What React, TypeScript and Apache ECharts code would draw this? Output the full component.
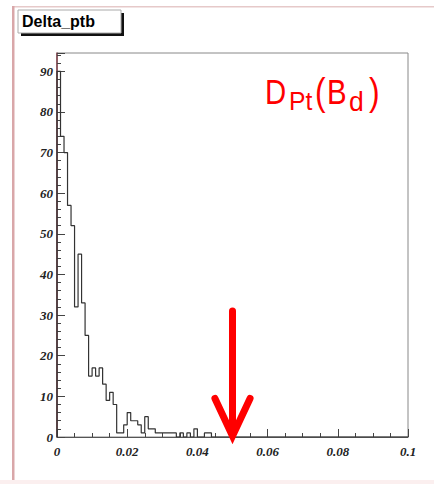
import * as echarts from "echarts";
import { useEffect, useRef } from "react";

// histogram Delta_ptb: bin contents, bins of 0.001 from 0
const BIN_WIDTH = 0.001;
const binCounts = [
  90, 74, 70, 57, 52, 32, 45, 33, 25, 15, 17, 15, 17, 13, 9, 11, 8, 1, 1, 3,
  6, 4, 4, 3, 1, 5, 2, 2, 1, 1, 1, 1, 1, 1, 0, 1, 0, 1, 0, 2, 0, 0, 1, 1, 0,
];
const xTicks = [0, 0.02, 0.04, 0.06, 0.08, 0.1];
const X_MAX = 0.1;
const Y_MAX = 94.5;

// cut marker
const ARROW_X = 0.05;
const ARROW_TOP = 31;
const ARROW_HEAD_Y = 9.5;
const ARROW_HALF = 0.005;

const labelFont = {
  fontFamily: '"Liberation Serif", "DejaVu Serif", serif',
  fontStyle: "italic" as const,
  fontWeight: "bold" as const,
  fontSize: 13,
  color: "#222",
};

export default function App() {
  const ref = useRef<HTMLDivElement>(null);

  useEffect(() => {
    document.body.style.margin = "0";
    const chart = echarts.init(ref.current!, null, { renderer: "svg" });

    const steps: number[][] = [[0, 0]];
    binCounts.forEach((v, i) => steps.push([i * BIN_WIDTH, v]));
    steps.push([X_MAX, binCounts[binCounts.length - 1]]);

    const red = "#ff0000";
    const sans = '"Liberation Sans", Arial, sans-serif';

    chart.setOption({
      animation: false,
      backgroundColor: "#fff",
      grid: {
        left: 57,
        right: 26,
        top: 53,
        bottom: 47,
        show: true,
        borderColor: "#888",
        borderWidth: 1,
      },
      xAxis: {
        type: "value",
        min: 0,
        max: X_MAX,
        interval: 0.02,
        axisLine: { lineStyle: { color: "#555", width: 1 } },
        axisTick: { inside: true, length: 8, lineStyle: { color: "#444" } },
        minorTick: {
          show: true,
          splitNumber: 4,
          length: 4,
          lineStyle: { color: "#444" },
        },
        splitLine: { show: false },
        axisLabel: {
          ...labelFont,
          margin: 8,
          formatter: (v: number) =>
            xTicks.some((t) => Math.abs(t - v) < 1e-9) ? String(+v.toFixed(2)) : "",
        },
      },
      yAxis: {
        type: "value",
        min: 0,
        max: Y_MAX,
        interval: 10,
        axisLine: { show: true, lineStyle: { color: "#7d3b45", width: 1.5 } },
        axisTick: { show: true, inside: true, length: 8, lineStyle: { color: "#444" } },
        minorTick: {
          show: true,
          splitNumber: 5,
          length: 4,
          lineStyle: { color: "#444" },
        },
        splitLine: { show: false },
        axisLabel: {
          ...labelFont,
          margin: 4,
          showMaxLabel: false,
          formatter: (v: number) => (v % 10 === 0 ? String(v) : ""),
        },
      },
      series: [
        {
          type: "line",
          step: "end",
          data: steps,
          symbol: "none",
          lineStyle: { color: "#333", width: 1.2 },
          z: 3,
        },
        {
          type: "custom",
          data: [[ARROW_X, ARROW_TOP]],
          clip: false,
          z: 5,
          renderItem: (_p: any, api: any) => {
            const x = api.value(0);
            const top = api.coord([x, api.value(1)]);
            const tip = api.coord([x, 0]);
            const l = api.coord([x - ARROW_HALF, ARROW_HEAD_Y]);
            const r = api.coord([x + ARROW_HALF, ARROW_HEAD_Y]);
            const style = {
              stroke: red,
              lineWidth: 7,
              lineCap: "round",
              lineJoin: "miter",
              fill: "none",
            };
            return {
              type: "group",
              children: [
                {
                  type: "line",
                  shape: { x1: top[0], y1: top[1], x2: tip[0], y2: tip[1] - 2 },
                  style,
                },
                {
                  type: "polyline",
                  shape: { points: [l, [tip[0], tip[1] - 1], r] },
                  style,
                },
              ],
            };
          },
        },
      ],
      graphic: [
        { type: "rect", shape: { x: 12, y: 6, width: 422, height: 1.5 }, style: { fill: "#e6c9c9" } },
        { type: "rect", shape: { x: 12, y: 6, width: 2.5, height: 478 }, style: { fill: "#d9a7a9" } },
        { type: "rect", shape: { x: 0, y: 480, width: 434, height: 4 }, style: { fill: "#fbefef" } },
        { type: "rect", shape: { x: 21, y: 13, width: 103, height: 23 }, style: { fill: "#111" } },
        {
          type: "rect",
          shape: { x: 18, y: 10, width: 103, height: 23 },
          style: { fill: "#fff", stroke: "#aaa", lineWidth: 1 },
        },
        {
          type: "text",
          x: 22,
          y: 21.5,
          style: {
            text: "Delta_ptb",
            fill: "#000",
            font: `bold 16px ${sans}`,
            verticalAlign: "middle",
          },
        },
        { type: "text", x: 265, y: 92, scaleX: 0.84, style: { text: "D", fill: red, font: `35px ${sans}`, verticalAlign: "middle" } },
        { type: "text", x: 289, y: 101, scaleX: 0.95, style: { text: "Pt", fill: red, font: `26px ${sans}`, verticalAlign: "middle" } },
        { type: "text", x: 315, y: 91, scaleX: 0.84, style: { text: "(", fill: red, font: `38px ${sans}`, verticalAlign: "middle" } },
        { type: "text", x: 327, y: 92, scaleX: 0.84, style: { text: "B", fill: red, font: `35px ${sans}`, verticalAlign: "middle" } },
        { type: "text", x: 349, y: 101, scaleX: 0.95, style: { text: "d", fill: red, font: `28px ${sans}`, verticalAlign: "middle" } },
        { type: "text", x: 369, y: 91, scaleX: 0.84, style: { text: ")", fill: red, font: `38px ${sans}`, verticalAlign: "middle" } },
      ],
    });
    return () => chart.dispose();
  }, []);

  return <div ref={ref} style={{ width: 434, height: 484 }} />;
}
